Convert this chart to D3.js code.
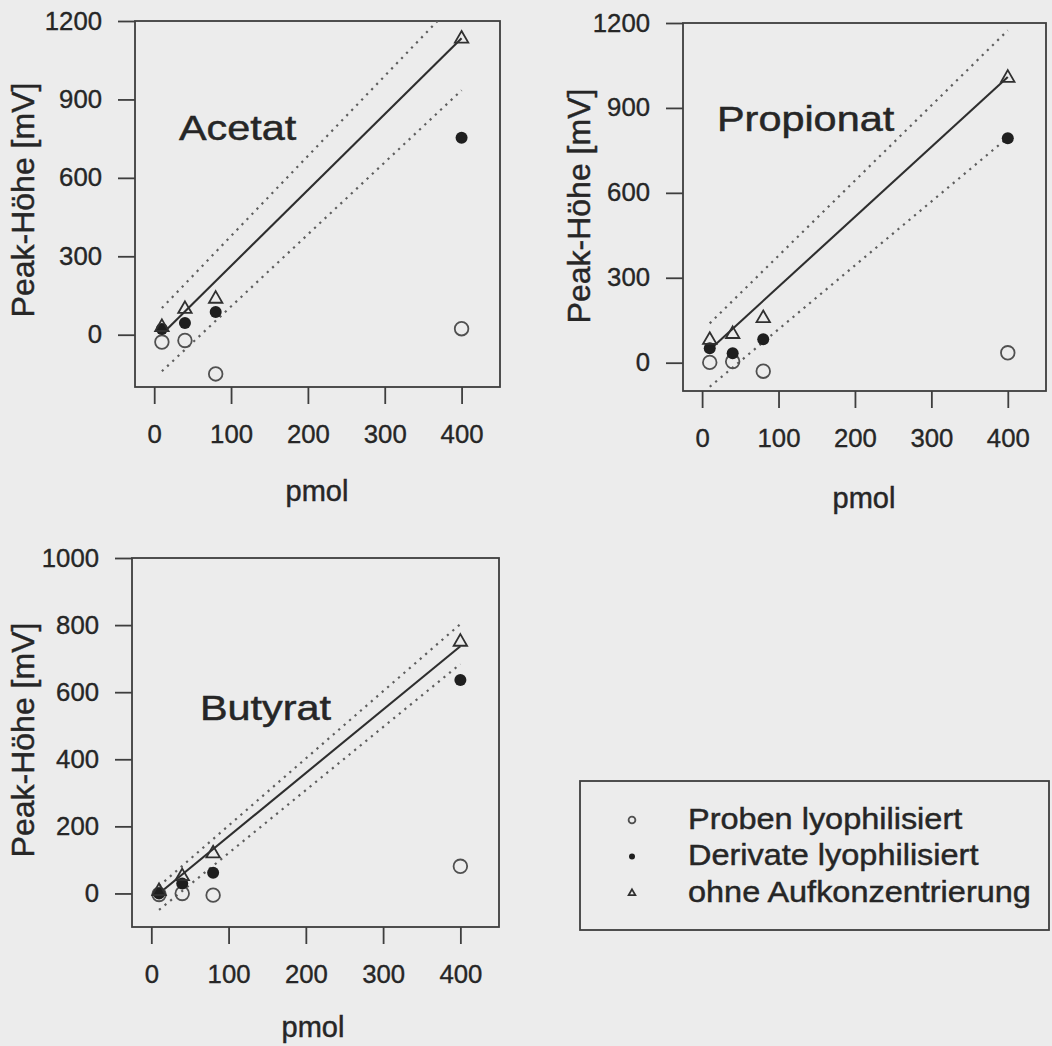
<!DOCTYPE html>
<html>
<head>
<meta charset="utf-8">
<script src="https://cdn.jsdelivr.net/npm/d3@7"></script>
<style>
  html, body { margin: 0; padding: 0; background: #ececec; }
  svg { display: block; }
</style>
</head>
<body>
<svg id="chart" width="1052" height="1046"></svg>
<script>
// ---- data -------------------------------------------------------------
const doses = [10, 40, 80, 400];                // pmol
const xTicks = [0, 100, 200, 300, 400];
const yTicksAcetat = [0, 300, 600, 900, 1200];
const yTicksPropionat = [0, 300, 600, 900, 1200];
const yTicksButyrat = [0, 200, 400, 600, 800, 1000];
const seriesNames = ["Proben lyophilisiert", "Derivate lyophilisiert", "ohne Aufkonzentrierung"];

// peak heights [mV]
const acetatProben   = [-28, -22, -150, 23];
const acetatDerivate = [22, 45, 87, 753];
const acetatOhne     = [29, 98, 137, 1132];

const propionatProben   = [1, 4, -30, 35];
const propionatDerivate = [51, 33, 83, 793];
const propionatOhne     = [80, 101, 157, 1006];

const butyratProben   = [-3, 0, -5, 81];
const butyratDerivate = [0, 30, 62, 636];
const butyratOhne     = [7, 51, 119, 750];

// calibration line (solid) and its dotted bounds, as [pmol, mV] end points
const acetatFit   = [[10, 2], [400, 1134]];
const acetatUpper = [[10, 102], [400, 1296]];
const acetatLower = [[10, -140], [400, 935]];

const propionatFit   = [[10, 46], [400, 1009]];
const propionatUpper = [[10, 139], [400, 1174]];
const propionatLower = [[10, -85], [400, 795]];

const butyratFit   = [[10, 0], [400, 737]];
const butyratUpper = [[10, 22], [400, 803]];
const butyratLower = [[10, -49], [400, 684]];

// ---- layout -----------------------------------------------------------
const FONT = "'Liberation Sans', Arial, Helvetica, sans-serif";
const INK = "#262626";
const LINE = "#3e3e3e";

const panels = [
  { id: "acetat", name: "Acetat",
    box: { l: 135, r: 500, t: 21, b: 387 },
    xDomain: [-25, 450], yDomain: [-200, 1200], yTicks: yTicksAcetat,
    series: [acetatProben, acetatDerivate, acetatOhne],
    fit: acetatFit, upper: acetatUpper, lower: acetatLower,
    title: [179, 140], yTitle: [34, 200], xTitle: [317, 501] },
  { id: "propionat", name: "Propionat",
    box: { l: 683, r: 1046, t: 23, b: 391 },
    xDomain: [-25, 450], yDomain: [-100, 1200], yTicks: yTicksPropionat,
    series: [propionatProben, propionatDerivate, propionatOhne],
    fit: propionatFit, upper: propionatUpper, lower: propionatLower,
    title: [717, 131], yTitle: [590, 206], xTitle: [864, 508] },
  { id: "butyrat", name: "Butyrat",
    box: { l: 132, r: 499, t: 558, b: 927 },
    xDomain: [-25, 450], yDomain: [-100, 1000], yTicks: yTicksButyrat,
    series: [butyratProben, butyratDerivate, butyratOhne],
    fit: butyratFit, upper: butyratUpper, lower: butyratLower,
    title: [200, 720], yTitle: [34, 740], xTitle: [313, 1037] }
];

const svg = d3.select("#chart");
svg.append("rect").attr("width", 1052).attr("height", 1046).attr("fill", "#ececec");

// heavier text, as printed
function ink(sel, w) {
  return sel.attr("fill", INK).attr("stroke", INK).attr("stroke-width", w == null ? 0.45 : w);
}

// marker painters: open circle, filled circle, open triangle
function drawMarker(g, kind, cx, cy, scale) {
  const s = scale || 1;
  if (kind === 0) {
    g.append("circle").attr("cx", cx).attr("cy", cy).attr("r", 6.8 * s)
      .attr("fill", "none").attr("stroke", "#505050").attr("stroke-width", 1.8);
  } else if (kind === 1) {
    g.append("circle").attr("cx", cx).attr("cy", cy).attr("r", 6 * s)
      .attr("fill", "#1f1f1f");
  } else {
    g.append("path")
      .attr("d", d3.symbol().type(d3.symbolTriangle).size(78 * s * s)())
      .attr("transform", `translate(${cx},${cy})`)
      .attr("fill", "none").attr("stroke", "#303030").attr("stroke-width", 1.8);
  }
}

panels.forEach(p => {
  const x = d3.scaleLinear().domain(p.xDomain).range([p.box.l, p.box.r]);
  const y = d3.scaleLinear().domain(p.yDomain).range([p.box.b, p.box.t]);
  const g = svg.append("g").attr("class", "panel-" + p.id);

  g.append("clipPath").attr("id", "clip-" + p.id)
    .append("rect").attr("x", p.box.l).attr("y", p.box.t)
    .attr("width", p.box.r - p.box.l).attr("height", p.box.b - p.box.t);

  // axes
  const yAxis = g.append("g").attr("transform", `translate(${p.box.l},0)`)
    .call(d3.axisLeft(y).tickValues(p.yTicks).tickFormat(d3.format("d"))
      .tickSize(17).tickSizeOuter(0).tickPadding(15));
  const xAxis = g.append("g").attr("transform", `translate(0,${p.box.b})`)
    .call(d3.axisBottom(x).tickValues(xTicks).tickFormat(d3.format("d"))
      .tickSize(17).tickSizeOuter(0).tickPadding(21));
  [yAxis, xAxis].forEach(a => {
    a.select(".domain").remove();
    a.selectAll("line").attr("stroke", LINE).attr("stroke-width", 1.8);
    ink(a.selectAll("text").attr("font-family", FONT).attr("font-size", 25)
      .attr("transform", "scale(1.03,1)"), 0.35);
  });

  // plot frame
  g.append("rect").attr("x", p.box.l).attr("y", p.box.t)
    .attr("width", p.box.r - p.box.l).attr("height", p.box.b - p.box.t)
    .attr("fill", "none").attr("stroke", LINE).attr("stroke-width", 1.8);

  // calibration lines
  const line = d3.line().x(d => x(d[0])).y(d => y(d[1]));
  const lines = g.append("g").attr("clip-path", `url(#clip-${p.id})`);
  [p.upper, p.lower].forEach(b => {
    lines.append("path").attr("d", line(b)).attr("fill", "none")
      .attr("stroke", "#5e5e5e").attr("stroke-width", 2.2).attr("stroke-dasharray", "2.2,5");
  });
  lines.append("path").attr("d", line(p.fit)).attr("fill", "none")
    .attr("stroke", "#2e2e2e").attr("stroke-width", 2.1);

  // measured points
  const pts = g.append("g");
  p.series.forEach((vals, k) => {
    vals.forEach((v, i) => drawMarker(pts, k, x(doses[i]), y(v)));
  });

  // labels
  ink(g.append("text").text(p.name).attr("font-family", FONT).attr("font-size", 36)
    .attr("transform", `translate(${p.title[0]},${p.title[1]}) scale(1.15,1)`), 0.5);
  ink(g.append("text").text("Peak-Höhe [mV]").attr("font-family", FONT).attr("font-size", 32)
    .attr("text-anchor", "middle")
    .attr("transform", `translate(${p.yTitle[0]},${p.yTitle[1]}) rotate(-90)`), 0.45);
  ink(g.append("text").text("pmol").attr("font-family", FONT).attr("font-size", 29)
    .attr("text-anchor", "middle")
    .attr("transform", `translate(${p.xTitle[0]},${p.xTitle[1]})`), 0.45);
});

// ---- legend -----------------------------------------------------------
const legend = svg.append("g").attr("class", "legend");
legend.append("rect").attr("x", 580).attr("y", 781).attr("width", 469).attr("height", 149)
  .attr("fill", "none").attr("stroke", LINE).attr("stroke-width", 1.8);
seriesNames.forEach((name, k) => {
  const cy = 820 + k * 36.6;
  drawMarker(legend, k, 632, cy, 0.5);
  ink(legend.append("text").text(name).attr("font-family", FONT).attr("font-size", 29)
    .attr("transform", `translate(688,${cy + 8.5}) scale(1.12,1)`), 0.45);
});
</script>
</body>
</html>
